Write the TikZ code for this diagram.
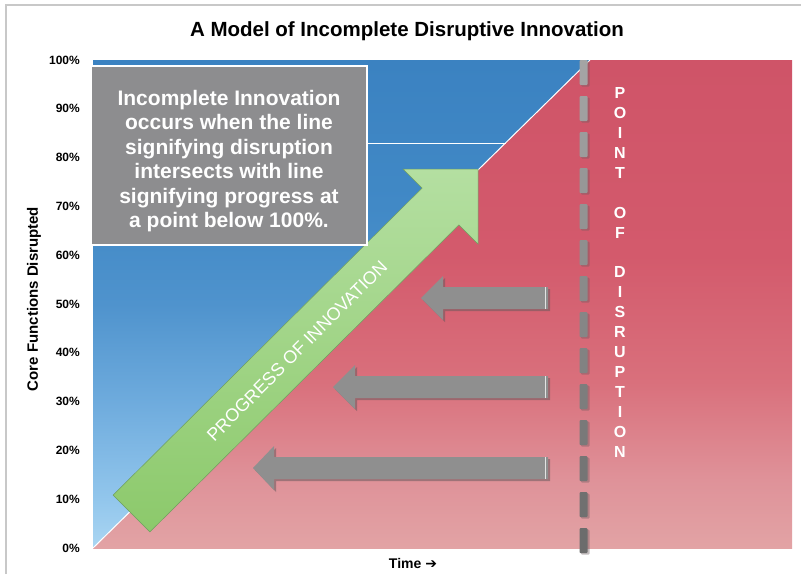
\documentclass[tikz,border=0pt]{standalone}
\usepackage{fontspec}
\setmainfont{Liberation Sans}
\newfontfamily\djv{DejaVu Sans}
\definecolor{framegray}{HTML}{C8C8C8}
\definecolor{boxgray}{HTML}{8D8D8F}
\definecolor{greenLight}{HTML}{B4DFA1}
\definecolor{greenMid}{HTML}{A3D78B}
\definecolor{greenDark}{HTML}{8CC96B}
\definecolor{greenEdge}{HTML}{6E9E60}
\definecolor{arrowgray}{HTML}{8F8F8F}
\definecolor{arrowshadow}{HTML}{6A5A5D}
\definecolor{dashtop}{HTML}{A4A4A4}
\definecolor{dashbot}{HTML}{6C6C6C}
\pgfdeclareverticalshading{redshade}{100bp}{%
  color(0bp)=(rgb,255:red,226;green,163;blue,165);
  color(25bp)=(rgb,255:red,226;green,163;blue,165);
  color(32bp)=(rgb,255:red,223;green,146;blue,153);
  color(42bp)=(rgb,255:red,217;green,112;blue,124);
  color(55bp)=(rgb,255:red,211;green,90;blue,108);
  color(75bp)=(rgb,255:red,207;green,84;blue,104);
  color(100bp)=(rgb,255:red,207;green,84;blue,104)}
\pgfdeclareverticalshading{blueshade}{100bp}{%
  color(0bp)=(rgb,255:red,170;green,214;blue,242);
  color(25bp)=(rgb,255:red,170;green,214;blue,242);
  color(30bp)=(rgb,255:red,146;green,198;blue,236);
  color(40bp)=(rgb,255:red,110;green,171;blue,221);
  color(50bp)=(rgb,255:red,79;green,147;blue,205);
  color(60bp)=(rgb,255:red,65;green,137;blue,198);
  color(75bp)=(rgb,255:red,59;green,130;blue,193);
  color(100bp)=(rgb,255:red,59;green,130;blue,193)}
\tikzset{
  ticklabel/.style={anchor=east, font=\bfseries\fontsize{12}{14}\selectfont, inner sep=0pt},
  podletter/.style={text=white, font=\bfseries\fontsize{16}{18}\selectfont, inner sep=0pt},
  grayarrow/.style={fill=arrowgray},
  grayshadow/.style={fill=arrowshadow, opacity=0.55},
  dashbox/.style={rounded corners=1pt},
}
\begin{document}
\begin{tikzpicture}[x=1pt,y=-1pt]
\useasboundingbox (0,0) rectangle (801,574);
\fill[white] (0,0) rectangle (801,574);
\draw[framegray, line width=1.5pt] (6,574) -- (6,5) -- (801,5);
% plot regions
\shade[shading=redshade] (93,60) rectangle (792,548);
\shade[shading=blueshade] (93,60) -- (590,60) -- (93,548) -- cycle;
\coordinate (origin) at (93,548);
\coordinate (diagtop) at (590,60);
\draw[white, line width=1pt] (origin) -- (diagtop);
% gray arrows
\foreach \yc/\hb/\tp [count=\k] in {298/443/421, 387/355/333, 468/274/253}{
  \fill[grayshadow] (550,{\yc-9}) -- ({\hb+2},{\yc-9}) -- ({\hb+2},{\yc-20}) -- ({\tp+2},{\yc+2}) -- ({\hb+2},{\yc+24}) -- ({\hb+2},{\yc+13}) -- (550,{\yc+13}) -- cycle;
  \fill[grayarrow] (548,{\yc-11}) -- (\hb,{\yc-11}) -- (\hb,{\yc-22}) -- (\tp,\yc) -- (\hb,{\yc+22}) -- (\hb,{\yc+11}) -- (548,{\yc+11}) -- cycle;
  \draw[white!75!arrowgray, line width=0.6pt] (545,{\yc-11}) -- (545,{\yc+11});
}
% green arrow
\shade[top color=greenLight, middle color=greenMid, bottom color=greenDark, draw=greenEdge, line width=0.5pt]
  (113.1,495.1) -- (422.1,188.1) -- (403,169) -- (478,169) -- (478,244) -- (458.9,224.9) -- (149.9,531.9) -- cycle;
\node[rotate=45, text=white, font=\fontsize{18}{20}\selectfont, inner sep=0pt] (prog) at (297,351) {PROGRESS OF INNOVATION};
% dashed line
\foreach \i in {0,...,13}{
  \pgfmathtruncatemacro\p{100*\i/13}
  \pgfmathsetmacro\ya{60+36*\i}
  \fill[dashbox, arrowshadow, opacity=0.4] (581,{\ya+1.5}) rectangle (589.5,{\ya+26.5});
  \fill[dashbox, dashbot!\p!dashtop] (579.5,\ya) rectangle (587.5,{\ya+25});
}
% text box
\node[draw=white, line width=2pt, fill=boxgray, minimum width=276pt, minimum height=179pt, inner sep=0pt] (box) at (229,155.5) {};
\coordinate (hl) at (505.5,143);
\draw[white, line width=1pt] (box.east |- hl) -- (hl);
\node[text=white, align=center, font=\bfseries\fontsize{21}{24.5}\selectfont, inner sep=0pt] (boxtext) at (229,161)
  {Incomplete Innovation\\occurs when the line\\signifying disruption\\intersects with line\\signifying progress at\\a point below 100\%.};
% point of disruption
\foreach \c [count=\i from 0] in {P,O,I,N,T,{},O,F,{},D,I,S,R,U,P,T,I,O,N}{
  \node[podletter] (pod\i) at (620,{93.3+19.9*\i}) {\c};
}
% axes text
\node[font=\bfseries\fontsize{20.5}{24}\selectfont] (title) at (407,31) {A Model of Incomplete Disruptive Innovation};
\foreach \v in {0,10,...,100}{
  \node[ticklabel] (tick\v) at (80,{548-4.88*\v}) {\v\%};
}
\node[rotate=90, font=\bfseries\fontsize{15}{18}\selectfont] (ylab) at (34,299) {Core Functions Disrupted};
\node[font=\bfseries\fontsize{14}{16}\selectfont] (xlab) at (413,563) {Time {\djv\bfseries ➔}};
\end{tikzpicture}
\end{document}
